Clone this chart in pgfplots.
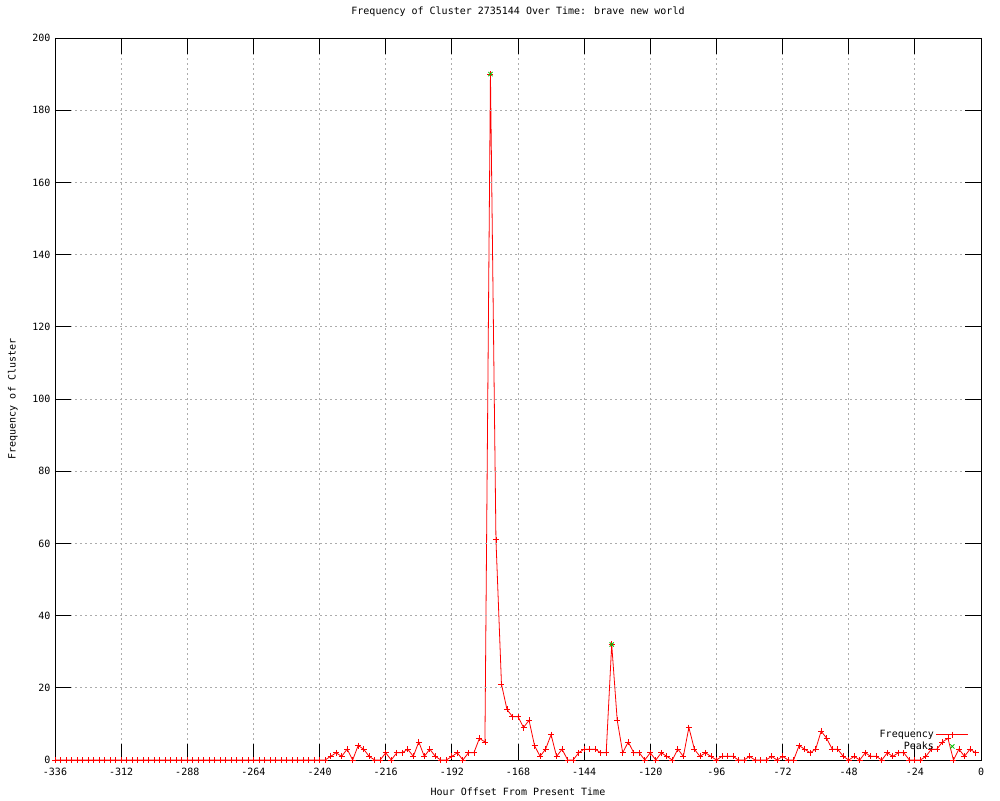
\documentclass[border=0pt]{standalone}
\usepackage{pgfplots}
\pgfplotsset{compat=1.18}
\usepackage{fontspec}
\setmainfont{DejaVu Sans Mono}
\definecolor{gpred}{RGB}{255,0,0}
\definecolor{gpgreen}{RGB}{0,192,0}
\pgfplotstableread{
h v
-336 0
-334 0
-332 0
-330 0
-328 0
-326 0
-324 0
-322 0
-320 0
-318 0
-316 0
-314 0
-312 0
-310 0
-308 0
-306 0
-304 0
-302 0
-300 0
-298 0
-296 0
-294 0
-292 0
-290 0
-288 0
-286 0
-284 0
-282 0
-280 0
-278 0
-276 0
-274 0
-272 0
-270 0
-268 0
-266 0
-264 0
-262 0
-260 0
-258 0
-256 0
-254 0
-252 0
-250 0
-248 0
-246 0
-244 0
-242 0
-240 0
-238 0
-236 1
-234 2
-232 1
-230 3
-228 0
-226 4
-224 3
-222 1
-220 0
-218 0
-216 2
-214 0
-212 2
-210 2
-208 3
-206 1
-204 5
-202 1
-200 3
-198 1
-196 0
-194 0
-192 1
-190 2
-188 0
-186 2
-184 2
-182 6
-180 5
-178 190
-176 61
-174 21
-172 14
-170 12
-168 12
-166 9
-164 11
-162 4
-160 1
-158 3
-156 7
-154 1
-152 3
-150 0
-148 0
-146 2
-144 3
-142 3
-140 3
-138 2
-136 2
-134 32
-132 11
-130 2
-128 5
-126 2
-124 2
-122 0
-120 2
-118 0
-116 2
-114 1
-112 0
-110 3
-108 1
-106 9
-104 3
-102 1
-100 2
-98 1
-96 0
-94 1
-92 1
-90 1
-88 0
-86 0
-84 1
-82 0
-80 0
-78 0
-76 1
-74 0
-72 1
-70 0
-68 0
-66 4
-64 3
-62 2
-60 3
-58 8
-56 6
-54 3
-52 3
-50 1
-48 0
-46 1
-44 0
-42 2
-40 1
-38 1
-36 0
-34 2
-32 1
-30 2
-28 2
-26 0
-24 0
-22 0
-20 1
-18 3
-16 3
-14 5
-12 6
-10 0
-8 3
-6 1
-4 3
-2 2
}\freqdata
\pgfplotstableread{
h v
-178 190
-134 32
}\peakdata
\begin{document}
\begin{tikzpicture}[font=\fontsize{10pt}{12pt}\selectfont]
\path[use as bounding box] (0,0) rectangle (1000pt,800pt);
\begin{axis}[
  at={(55pt,40pt)}, anchor=south west,
  scale only axis, width=926pt, height=722pt,
  xmin=-336, xmax=0, ymin=0, ymax=200,
  xtick={-336,-312,...,0}, ytick={0,20,...,200},
  grid=major,
  major grid style={color=gray!65, dash pattern=on 2pt off 3pt, line width=0.8pt},
  tick align=inside, major tick length=16pt,
  tick style={black, line width=0.8pt},
  axis line style={black, line width=0.8pt},
  /pgf/number format/assume math mode=true,
  ticklabel style={font=\fontsize{10pt}{12pt}\selectfont},
  xticklabel style={yshift=-5pt},
  yticklabel style={xshift=-1pt},
  title={Frequency of Cluster 2735144 Over Time: brave new world},
  title style={at={(axis description cs:0.5,1.0277)}, anchor=center},
  xlabel={Hour Offset From Present Time},
  xlabel style={at={(axis description cs:0.5,-0.0443)}, anchor=center},
  ylabel={Frequency of Cluster},
  ylabel style={at={(axis description cs:-0.0454,0.5)}, anchor=center},
  axis on top,
  legend plot pos=right,
  legend cell align=right,
  legend style={draw=none, fill=none, at={(axis description cs:0.988,0.008)}, anchor=south east,
    font=\fontsize{10pt}{12pt}\selectfont, row sep=-1pt, inner sep=1pt},
  legend image code/.code={\draw[mark repeat=2,mark phase=2,#1] plot coordinates {(0pt,0pt) (16pt,0pt) (32pt,0pt)};},
]
\addplot[color=gpred, line width=0.8pt, mark=+, mark size=3pt, mark options={solid, line width=0.8pt}] table[x=h,y=v] {\freqdata};
\addlegendentry{Frequency}
\addplot[only marks, color=gpgreen, mark=x, mark size=3pt, mark options={line width=0.8pt}] table[x=h,y=v] {\peakdata};
\addlegendentry{Peaks}
\end{axis}
\end{tikzpicture}
\end{document}
